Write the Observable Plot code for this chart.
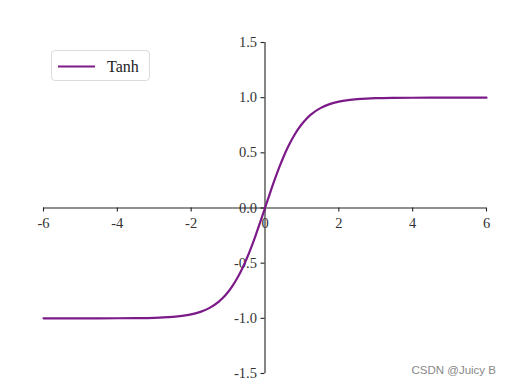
<!DOCTYPE html>
<html>
<head>
<meta charset="utf-8">
<script src="https://cdn.jsdelivr.net/npm/d3@7"></script>
<script src="https://cdn.jsdelivr.net/npm/@observablehq/plot@0.6"></script>
<style>
  html, body { margin: 0; padding: 0; background: #fff; }
  #wrap { position: relative; width: 510px; height: 389px; }
  #legend { position: absolute; left: 51px; top: 50px; width: 99px; height: 31px; border: 1px solid #dcdcdc; border-radius: 4px; background: rgba(255,255,255,0.85); box-sizing: border-box; }
  #legend svg { position: absolute; left: 0; top: 0; }
  #wm { position: absolute; right: 14px; top: 364px; font-family: "Liberation Sans", Arial, sans-serif; font-size: 11.5px; color: #888; }
</style>
</head>
<body>
<div id="wrap">
  <div id="chart"></div>
  <div id="legend">
    <svg width="99" height="31">
      <line x1="6" x2="43" y1="15.5" y2="15.5" stroke="#7b1a88" stroke-width="2.2"></line>
      <text x="55" y="21" font-family="Liberation Serif, serif" font-size="16" fill="#222">Tanh</text>
    </svg>
  </div>
  <div id="wm">CSDN @Juicy B</div>
</div>
<script>
const xs = [-6, -5, -4, -3.5, -3, -2.75, -2.5, -2.25, -2, -1.75, -1.5, -1.25, -1.125, -1, -0.875, -0.75, -0.625, -0.5, -0.375, -0.25, -0.125, 0,
            0.125, 0.25, 0.375, 0.5, 0.625, 0.75, 0.875, 1, 1.125, 1.25, 1.5, 1.75, 2, 2.25, 2.5, 2.75, 3, 3.5, 4, 5, 6];
const ys = [-1.0000, -0.9999, -0.9993, -0.9982, -0.9951, -0.9918, -0.9866, -0.9780, -0.9640, -0.9414, -0.9051, -0.8483, -0.8096, -0.7616, -0.7039, -0.6351, -0.5546, -0.4621, -0.3584, -0.2449, -0.1243, 0,
            0.1243, 0.2449, 0.3584, 0.4621, 0.5546, 0.6351, 0.7039, 0.7616, 0.8096, 0.8483, 0.9051, 0.9414, 0.9640, 0.9780, 0.9866, 0.9918, 0.9951, 0.9982, 0.9993, 0.9999, 1.0000];
const xTicks = [-6, -4, -2, 0, 2, 4, 6];
const xTickLabels = ["-6", "-4", "-2", "0", "2", "4", "6"];
const yTicks = [-1.5, -1.0, -0.5, 0.0, 0.5, 1.0, 1.5];
const yTickLabels = ["-1.5", "-1.0", "-0.5", "0.0", "0.5", "1.0", "1.5"];
const seriesName = "Tanh";

const data = xs.map((x, i) => ({x, y: ys[i]}));
const axisColor = "#222";
const font = "Liberation Serif, serif";

const chart = Plot.plot({
  width: 510,
  height: 389,
  marginLeft: 43,
  marginRight: 24,
  marginTop: 42,
  marginBottom: 16,
  style: {fontFamily: font, fontSize: "14px", background: "white", overflow: "visible"},
  x: {domain: [-6, 6], axis: null},
  y: {domain: [-1.5, 1.5], axis: null},
  marks: [
    // x axis spine at y = 0
    Plot.ruleY([0], {x1: -6, x2: 6, stroke: axisColor, strokeWidth: 1.1}),
    Plot.ruleX(xTicks, {x: d => d, y1: 0, y2: 0, insetBottom: -4, stroke: axisColor, strokeWidth: 1.1}),
    Plot.text(xTicks, {x: d => d, y: 0, dy: 15, text: (d, i) => xTickLabels[i], fill: "#333", fontSize: 14.5, fontFamily: font}),
    // y axis spine at x = 0
    Plot.ruleX([0], {y1: -1.5, y2: 1.5, stroke: axisColor, strokeWidth: 1.1}),
    Plot.ruleY(yTicks, {y: d => d, x1: 0, x2: 0, insetLeft: -4, stroke: axisColor, strokeWidth: 1.1}),
    Plot.text(yTicks, {y: d => d, x: 0, dx: -8, textAnchor: "end", text: (d, i) => yTickLabels[i], fill: "#333", fontSize: 14.5, fontFamily: font}),
    // curve
    Plot.line(data, {x: "x", y: "y", stroke: "#7b1a88", strokeWidth: 2.2, curve: "monotone-x"})
  ]
});
document.getElementById("chart").appendChild(chart);
</script>
</body>
</html>
